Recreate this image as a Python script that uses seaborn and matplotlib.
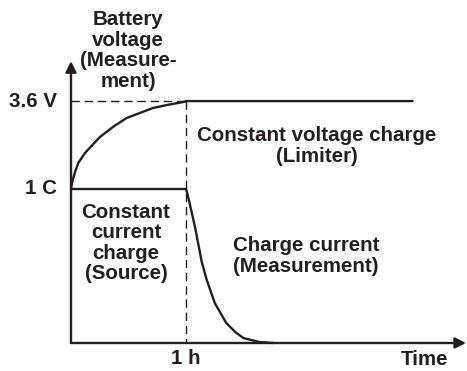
import matplotlib
matplotlib.use("Agg")
import matplotlib.pyplot as plt
import seaborn as sns
import pandas as pd

# Time in hours, levels normalised so that 1 C = 1.0
voltage_t = [0.0, 0.005, 0.015, 0.035, 0.063, 0.122, 0.194, 0.252, 0.365, 0.484, 0.60, 0.713, 0.832, 0.991, 1.0, 2.97]
voltage_v = [1.0, 1.025, 1.058, 1.11, 1.169, 1.234, 1.292, 1.338, 1.403, 1.461, 1.494, 1.526, 1.545, 1.567, 1.571, 1.571]

current_t = [0.0, 1.0, 1.012, 1.035, 1.08, 1.137, 1.18, 1.25, 1.35, 1.43, 1.50, 1.64, 1.76]
current_i = [1.0, 1.0, 0.97, 0.896, 0.747, 0.526, 0.41, 0.26, 0.13, 0.07, 0.032, 0.006, 0.0]

cv_level = 1.571   # 3.6 V
cc_level = 1.0     # 1 C
t_switch = 1.0     # 1 h

ytick_vals = [cv_level, cc_level]
ytick_labels = ["3.6 V", "1 C"]
xtick_vals = [t_switch]
xtick_labels = ["1 h"]

sns.set_theme(style="white")
plt.rcParams["font.family"] = ["Liberation Sans", "DejaVu Sans"]
INK = "#231f20"

fig = plt.figure(figsize=(4.67, 3.71), dpi=100)
ax = fig.add_axes([0, 0, 1, 1])
ax.set_xlim(-71 / 115, 396 / 115)
ax.set_ylim(-28 / 154, 343 / 154)
ax.axis("off")

volt = pd.DataFrame({"t": voltage_t, "v": voltage_v})
curr = pd.DataFrame({"t": current_t, "i": current_i})
sns.lineplot(data=volt, x="t", y="v", ax=ax, color=INK, lw=1.7,
             estimator=None, sort=False)
sns.lineplot(data=curr, x="t", y="i", ax=ax, color=INK, lw=1.7,
             estimator=None, sort=False)

# guide lines
dash = dict(color=INK, lw=1.0, dashes=(6, 3.5))
ax.plot([0, t_switch], [cv_level, cv_level], **dash)
ax.plot([t_switch, t_switch], [cv_level, 0], **dash)

# axes with arrow heads
arrow = dict(arrowstyle="-|>", lw=1.7, color=INK, mutation_scale=16,
             shrinkA=0, shrinkB=0)
ax.annotate("", xy=(3.435, 0), xytext=(0, 0), arrowprops=arrow)
ax.annotate("", xy=(0, 1.83), xytext=(0, 0), arrowprops=arrow)

txt = dict(color=INK, fontsize=14.8, fontweight="bold")
for v, lab in zip(ytick_vals, ytick_labels):
    ax.text(-0.12, v, lab, ha="right", va="center", **txt)
for t, lab in zip(xtick_vals, xtick_labels):
    ax.text(t, -0.1, lab, ha="center", va="center", **txt)
ax.text(3.07, -0.11, "Time", ha="center", va="center", **txt)

ls = 1.1
ax.text(0.496, 1.90, "Battery\nvoltage\n(Measure-\nment)", ha="center",
        va="center", multialignment="center", linespacing=ls, **txt)
ax.text(2.14, 1.28, "Constant voltage charge\n(Limiter)", ha="center",
        va="center", multialignment="center", linespacing=ls, **txt)
ax.text(0.478, 0.65, "Constant\ncurrent\ncharge\n(Source)", ha="center",
        va="center", multialignment="center", linespacing=ls, **txt)
ax.text(1.41, 0.565, "Charge current\n(Measurement)", ha="left",
        va="center", multialignment="left", linespacing=ls, **txt)

fig.savefig("out.png", dpi=100)
